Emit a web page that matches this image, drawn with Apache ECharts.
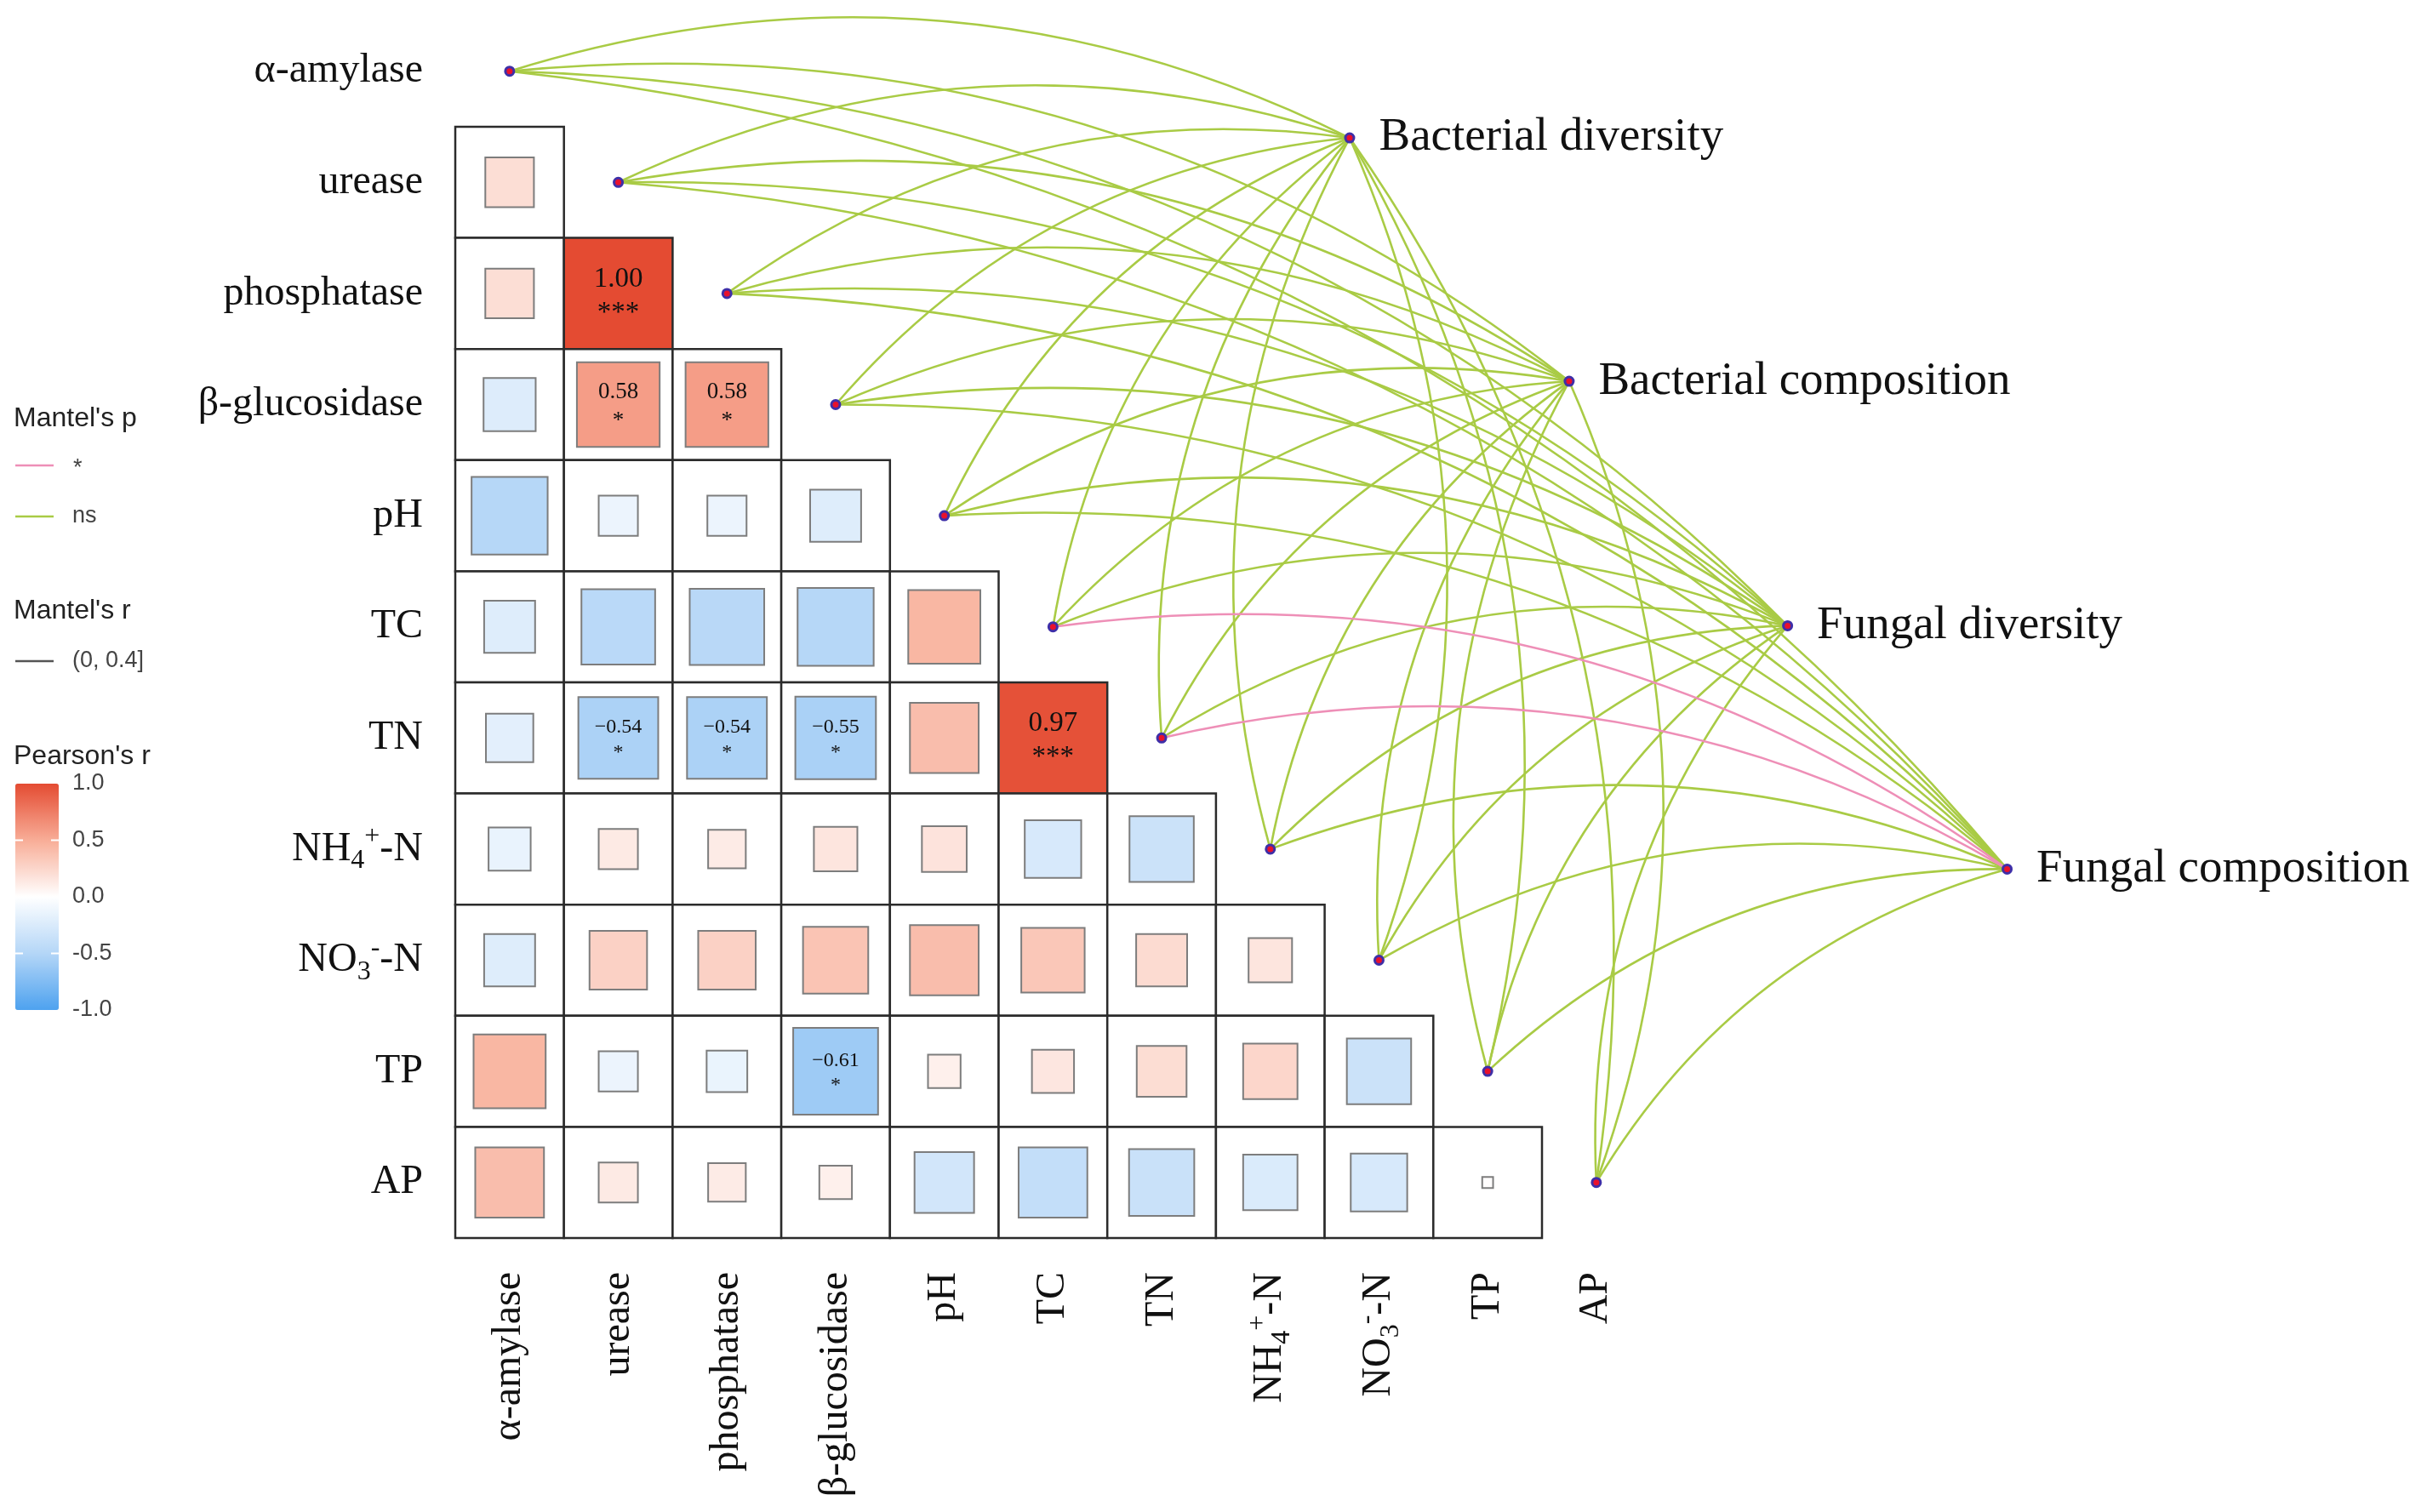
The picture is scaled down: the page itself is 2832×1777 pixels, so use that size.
<!DOCTYPE html>
<html><head><meta charset="utf-8">
<script src="https://cdn.jsdelivr.net/npm/echarts@6/dist/echarts.min.js"></script>
<style>html,body{margin:0;padding:0;background:#fff}#c{width:2832px;height:1777px}</style>
</head><body><div id="c"></div>
<script>
const SERIF = "'Liberation Serif','Times New Roman',serif";
const SANS = "'Liberation Sans',Arial,sans-serif";

// ---------- data ----------
const variables = ['α-amylase','urease','phosphatase','β-glucosidase','pH','TC','TN','NH4+-N','NO3--N','TP','AP'];
// lower triangle Pearson's r: row i, columns 0..i-1
const corrR = [
  [],
  [0.20],
  [0.20, 1.00],
  [-0.23, 0.58, 0.58],
  [-0.49, -0.13, -0.13, -0.22],
  [-0.22, -0.46, -0.47, -0.49, 0.44],
  [-0.19, -0.54, -0.54, -0.55, 0.40, 0.97],
  [-0.15, 0.13, 0.12, 0.16, 0.17, -0.27, -0.35],
  [-0.22, 0.28, 0.28, 0.36, 0.40, 0.34, 0.22, 0.16],
  [0.44, -0.13, -0.14, -0.61, 0.09, 0.15, 0.21, 0.25, -0.35],
  [0.40, 0.13, 0.12, 0.09, -0.30, -0.40, -0.36, -0.25, -0.27, 0.01]
];
const corrSig = [
  [],
  [''],
  ['', '***'],
  ['', '*', '*'],
  ['', '', '', ''],
  ['', '', '', '', ''],
  ['', '*', '*', '*', '', '***'],
  ['', '', '', '', '', '', ''],
  ['', '', '', '', '', '', '', ''],
  ['', '', '', '*', '', '', '', '', ''],
  ['', '', '', '', '', '', '', '', '', '']
];
const targets = ['Bacterial diversity', 'Bacterial composition', 'Fungal diversity', 'Fungal composition'];
const targetX = [7.73, 9.75, 11.76, 13.78];
const targetY = [0.60, 2.79, 4.99, 7.18];
// Mantel's p class per environmental variable, one array per target
const mantelP_BD = ['ns','ns','ns','ns','ns','ns','ns','ns','ns','ns','ns'];
const mantelP_BC = ['ns','ns','ns','ns','ns','ns','ns','ns','ns','ns','ns'];
const mantelP_FD = ['ns','ns','ns','ns','ns','ns','ns','ns','ns','ns','ns'];
const mantelP_FC = ['ns','ns','ns','ns','ns','*','*','ns','ns','ns','ns'];
const mantelPAll = [mantelP_BD, mantelP_BC, mantelP_FD, mantelP_FC];
const colorTicks = [1.0, 0.5, 0.0, -0.5, -1.0];

// ---------- build ----------
const cellData = [];
corrR.forEach((row, i) => row.forEach((r, j) => cellData.push([j, i, r, corrSig[i][j]])));

const linksNs = [], linksSig = [];
variables.forEach((v, i) => {
  targets.forEach((t, k) => {
    const a = [i, i], b = [targetX[k], targetY[k]];
    const coords = i < targetX[k] ? [a, b] : [b, a];
    (mantelPAll[k][i] === '*' ? linksSig : linksNs).push({ coords: coords });
  });
});

function richLabel(name) {
  if (name === 'NH4+-N') return '{n|NH}{sub|4}{sup|+}{n|-N}';
  if (name === 'NO3--N') return '{n|NO}{sub|3}{sup|-}{n|-N}';
  return '{n|' + name + '}';
}
const rich = {
  n: { fontSize: 48, fontFamily: SERIF, color: '#111' },
  sub: { fontSize: 32, fontFamily: SERIF, color: '#111', padding: [28, 0, 0, 0] },
  sup: { fontSize: 32, fontFamily: SERIF, color: '#111', padding: [0, 0, 28, 0] }
};
const idx = variables.map((v, i) => i);

function fmtR(r) {
  const s = Math.abs(r).toFixed(2);
  return r < 0 ? '\u22120' + s.slice(1) : s;
}

const chart = echarts.init(document.getElementById('c'));
const CB_TOP = 921, CB_H = 266, CB_LEFT = 18, CB_W = 51;
const graphics = [
  { type: 'text', left: 16, top: 476, style: { text: "Mantel's p", font: '32px ' + SANS, fill: '#222' } },
  { type: 'line', shape: { x1: 18, y1: 547, x2: 63, y2: 547 }, style: { stroke: '#EE8FB7', lineWidth: 2.4 } },
  { type: 'text', x: 86, y: 551, style: { text: '*', font: '27px ' + SANS, fill: '#444', verticalAlign: 'middle' } },
  { type: 'line', shape: { x1: 18, y1: 607, x2: 63, y2: 607 }, style: { stroke: '#A9CB45', lineWidth: 2.4 } },
  { type: 'text', x: 85, y: 607, style: { text: 'ns', font: '27px ' + SANS, fill: '#444', verticalAlign: 'middle' } },
  { type: 'text', left: 16, top: 702, style: { text: "Mantel's r", font: '32px ' + SANS, fill: '#222' } },
  { type: 'line', shape: { x1: 18, y1: 777, x2: 63, y2: 777 }, style: { stroke: '#555', lineWidth: 2.4 } },
  { type: 'text', x: 85, y: 777, style: { text: '(0, 0.4]', font: '27px ' + SANS, fill: '#444', verticalAlign: 'middle' } },
  { type: 'text', left: 16, top: 873, style: { text: "Pearson's r", font: '32px ' + SANS, fill: '#222' } }
];
colorTicks.forEach(v => {
  const y = CB_TOP + (1 - v) / 2 * CB_H;
  graphics.push({ type: 'text', x: 85, y: y, z: 10, style: { text: v.toFixed(1), font: '27px ' + SANS, fill: '#444', verticalAlign: 'middle' } });
  if (Math.abs(v) === 0.5) {
    graphics.push({ type: 'line', z: 10, shape: { x1: CB_LEFT, y1: y, x2: CB_LEFT + 9, y2: y }, style: { stroke: '#fff', lineWidth: 2 } });
    graphics.push({ type: 'line', z: 10, shape: { x1: CB_LEFT + CB_W - 9, y1: y, x2: CB_LEFT + CB_W, y2: y }, style: { stroke: '#fff', lineWidth: 2 } });
  }
});

chart.setOption({
  animation: false,
  backgroundColor: '#fff',
  textStyle: { fontFamily: SERIF },
  grid: { left: 535, top: 18.4, width: 1404.7, height: 1436.6, containLabel: false },
  xAxis: {
    type: 'value', min: -0.5, max: 10.5, position: 'bottom',
    axisLine: { show: false }, axisTick: { show: false }, splitLine: { show: false },
    axisLabel: {
      customValues: idx, rotate: 90, margin: 40,
      formatter: v => richLabel(variables[Math.round(v)]), rich: rich
    }
  },
  yAxis: {
    type: 'value', min: -0.5, max: 10.5, inverse: true,
    axisLine: { show: false }, axisTick: { show: false }, splitLine: { show: false },
    axisLabel: {
      customValues: idx, margin: 38,
      formatter: v => richLabel(variables[Math.round(v)]), rich: rich
    }
  },
  visualMap: {
    type: 'continuous', min: -1, max: 1, seriesIndex: 0, dimension: 2,
    inRange: { color: ['#4EA2EF', '#B4D6F7', '#FFFFFF', '#F8AD97', '#E44B32'] },
    calculable: false, show: true, left: CB_LEFT, top: CB_TOP, itemWidth: CB_W, itemHeight: CB_H,
    padding: 0, text: null, orient: 'vertical'
  },
  graphic: graphics,
  series: [
    {
      type: 'custom', coordinateSystem: 'cartesian2d', data: cellData, z: 2,
      encode: { x: 0, y: 1 },
      renderItem: function (params, api) {
        const r = api.value(2);
        const sig = cellData[params.dataIndex][3];
        const c = api.coord([api.value(0), api.value(1)]);
        const sz = api.size([1, 1]);
        const w = sz[0], h = sz[1];
        const f = Math.sqrt(Math.abs(r));
        const color = api.visual('color');
        const children = [
          { type: 'rect', shape: { x: c[0] - w / 2, y: c[1] - h / 2, width: w, height: h }, style: { fill: '#fff' } },
          { type: 'rect', shape: { x: c[0] - w * f / 2, y: c[1] - h * f / 2, width: w * f, height: h * f },
            style: { fill: color, stroke: f > 0.95 ? null : '#7d7d7d', lineWidth: 2 } },
          { type: 'rect', shape: { x: c[0] - w / 2, y: c[1] - h / 2, width: w, height: h },
            style: { fill: null, stroke: '#2b2b2b', lineWidth: 2.5 } }
        ];
        if (sig) {
          const big = Math.abs(r) > 0.9, neg = r < 0;
          const fs = big ? 33 : (neg ? 24 : 27);
          const dyN = big ? -0.13 : (neg ? -0.095 : -0.115);
          const dyS = big ? 0.18 : (neg ? 0.13 : 0.15);
          children.push({ type: 'text', style: { text: fmtR(r), x: c[0], y: c[1] + dyN * h, align: 'center', verticalAlign: 'middle', font: fs + 'px ' + SERIF, fill: '#111' } });
          children.push({ type: 'text', style: { text: sig, x: c[0], y: c[1] + dyS * h, align: 'center', verticalAlign: 'middle', font: fs + 'px ' + SERIF, fill: '#111' } });
        }
        return { type: 'group', children: children };
      }
    },
    {
      type: 'lines', coordinateSystem: 'cartesian2d', data: linksNs, clip: false, silent: true, z: 3,
      lineStyle: { color: '#A9CB45', width: 2.6, opacity: 1, curveness: 0.2 }
    },
    {
      type: 'lines', coordinateSystem: 'cartesian2d', data: linksSig, clip: false, silent: true, z: 4,
      lineStyle: { color: '#EE8FB7', width: 2.6, opacity: 1, curveness: 0.2 }
    },
    {
      type: 'scatter', data: variables.map((v, i) => [i, i]), clip: false, z: 5, silent: true,
      symbol: 'circle', symbolSize: 10,
      itemStyle: { color: '#E8112D', borderColor: '#3E2FA8', borderWidth: 3, opacity: 1 }
    },
    {
      type: 'scatter', data: targets.map((t, k) => ({ name: t, value: [targetX[k], targetY[k]] })), clip: false, z: 5, silent: true,
      symbol: 'circle', symbolSize: 10,
      itemStyle: { color: '#E8112D', borderColor: '#3E2FA8', borderWidth: 3, opacity: 1 },
      label: { show: true, position: 'right', distance: 28, formatter: '{b}', fontSize: 55, fontFamily: SERIF, color: '#111' }
    }
  ]
});
</script></body></html>
